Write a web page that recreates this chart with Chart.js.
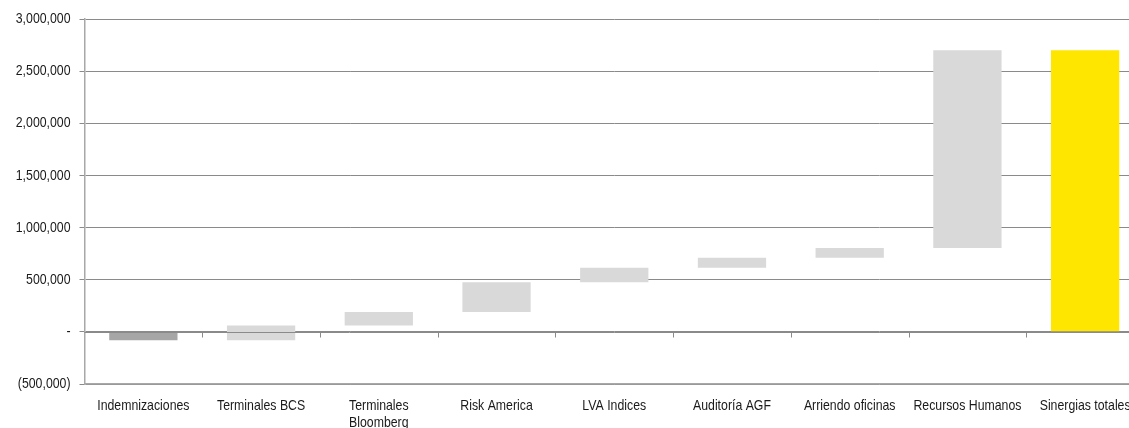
<!DOCTYPE html>
<html>
<head>
<meta charset="utf-8">
<script src="https://cdn.jsdelivr.net/npm/chart.js@4.4.1/dist/chart.umd.min.js"></script>
<style>
  html, body { margin: 0; padding: 0; background: #fff; overflow: hidden; width: 1129px; height: 428px; }
  #wrap { width: 1150px; height: 428px; }
</style>
</head>
<body>
<div id="wrap"><canvas id="c" width="1150" height="428"></canvas></div>
<script>
// Synergy waterfall: each step adds to the running total, last bar is the total.
const categories = [
  'Indemnizaciones', 'Terminales BCS', ['Terminales', 'Bloomberg'], 'Risk America',
  'LVA Indices', 'Auditoría AGF', 'Arriendo oficinas', 'Recursos Humanos', 'Sinergias totales'
];
const stepChanges = [-80000, 140000, 130000, 285000, 140000, 95000, 95000, 1895000];
const totalSynergies = 2700000;
const yTicks = { min: -500000, max: 3000000, step: 500000 };

const COLOR_NEGATIVE = '#a6a6a6';
const COLOR_STEP = '#d9d9d9';
const COLOR_TOTAL = '#ffe600';
const GRID = '#8a8a8a';
const AXIS = '#a8a8a8';
const TEXT = '#1a1a1a';
const NARROW = 0.82; // horizontal squeeze giving a narrow sans look

// Floating [start, end] ranges built from the running sum
const ranges = [];
let running = 0;
stepChanges.forEach(d => { ranges.push([running, running + d]); running += d; });
ranges.push([0, totalSynergies]);

const colors = stepChanges.map(d => d < 0 ? COLOR_NEGATIVE : COLOR_STEP).concat([COLOR_TOTAL]);

function fmt(v) {
  if (v === 0) return '-';
  const s = Math.abs(v).toLocaleString('en-US');
  return v < 0 ? '(' + s + ')' : s;
}

// Condensed text rendering on this canvas: squeeze glyphs around their anchor point
const canvas = document.getElementById('c');
const ctx2d = canvas.getContext('2d');
const baseFill = ctx2d.fillText.bind(ctx2d);
const baseMeasure = ctx2d.measureText.bind(ctx2d);
ctx2d.fillText = function (text, x, y, maxWidth) {
  this.save();
  this.translate(x, y);
  this.scale(NARROW, 1);
  if (maxWidth === undefined) baseFill(text, 0, 0);
  else baseFill(text, 0, 0, maxWidth / NARROW);
  this.restore();
};
ctx2d.measureText = function (text) {
  const m = baseMeasure(text);
  return {
    width: m.width * NARROW,
    actualBoundingBoxAscent: m.actualBoundingBoxAscent,
    actualBoundingBoxDescent: m.actualBoundingBoxDescent,
    actualBoundingBoxLeft: m.actualBoundingBoxLeft * NARROW,
    actualBoundingBoxRight: m.actualBoundingBoxRight * NARROW
  };
};

// Category axis crossing at zero, with tick marks between categories
const zeroAxis = {
  id: 'zeroAxis',
  afterDatasetsDraw(chart) {
    const { ctx, scales: { x, y }, chartArea } = chart;
    const y0 = Math.round(y.getPixelForValue(0)) + 0.5;
    ctx.save();
    ctx.strokeStyle = GRID;
    ctx.lineWidth = 1;
    ctx.beginPath();
    ctx.moveTo(chartArea.left, y0);
    ctx.lineTo(chartArea.right, y0);
    const n = x.ticks.length;
    for (let i = 1; i < n; i++) {
      const bx = Math.round((x.getPixelForTick(i - 1) + x.getPixelForTick(i)) / 2) + 0.5;
      ctx.moveTo(bx, y0);
      ctx.lineTo(bx, y0 + 5);
    }
    ctx.stroke();
    ctx.restore();
  }
};

Chart.defaults.font.family = "'Liberation Sans', Arial, sans-serif";
Chart.defaults.font.size = 15;
Chart.defaults.color = TEXT;

new Chart(canvas, {
  type: 'bar',
  data: {
    labels: categories,
    datasets: [{
      data: ranges,
      backgroundColor: colors,
      borderWidth: 0,
      borderSkipped: false,
      barPercentage: 0.58,
      categoryPercentage: 1.0
    }]
  },
  options: {
    responsive: false,
    animation: false,
    layout: { padding: { top: 19, right: 6, left: 0, bottom: 0 } },
    plugins: { legend: { display: false }, tooltip: { enabled: false } },
    scales: {
      x: {
        grid: { display: false },
        border: { display: true, color: AXIS, width: 1.5 },
        ticks: { autoSkip: false, maxRotation: 0, minRotation: 0, padding: 6, font: { lineHeight: 1.09 } },
        afterFit(s) { s.height = 44; }
      },
      y: {
        min: yTicks.min,
        max: yTicks.max,
        grid: { color: GRID, lineWidth: 1, tickLength: 5, drawTicks: true },
        border: { display: true, color: AXIS, width: 1.5 },
        ticks: { stepSize: yTicks.step, padding: 9, callback: v => fmt(v) },
        afterFit(s) { s.width = 84.5; }
      }
    }
  },
  plugins: [zeroAxis]
});
</script>
</body>
</html>
